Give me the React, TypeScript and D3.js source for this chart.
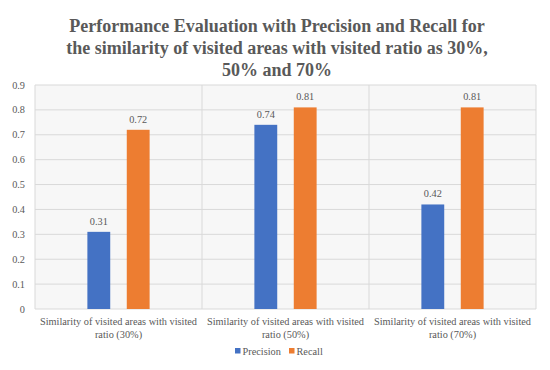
import * as d3 from 'd3';

const categories = ['30%', '50%', '70%'];
const precision = [0.31, 0.74, 0.42];
const recall = [0.72, 0.81, 0.81];
const seriesNames = ['Precision', 'Recall'];
const yTicks = [0, 0.1, 0.2, 0.3, 0.4, 0.5, 0.6, 0.7, 0.8, 0.9];
const titleLines = [
    'Performance Evaluation with Precision and Recall for',
    'the similarity of visited areas with visited ratio as 30%,',
    '50% and 70%',
];

const COLORS = ['#4472c4', '#ed7d31'];
const W = 550;
const H = 370;
const PLOT = { left: 35, right: 536, top: 85, bottom: 309 };
const FONT = 'Liberation Serif, Times New Roman, serif';
const TEXT = '#595959';
const SMALL = 10.3;

export default function App() {
    const x = d3
        .scaleBand()
        .domain(categories)
        .range([PLOT.left, PLOT.right]);
    // inner band for the two series inside each category
    const xInner = d3
        .scaleBand()
        .domain(seriesNames)
        .range([0, x.bandwidth()])
        .paddingInner(0.42)
        .paddingOuter(1.33);
    const y = d3.scaleLinear().domain([0, 0.9]).range([PLOT.bottom, PLOT.top]);

    const rows = categories.map((c, i) => ({ cat: c, values: [precision[i], recall[i]] }));

    return (
        <div style={{ margin: -8 }}>
            <svg width={W} height={H} style={{ display: 'block' }} fontFamily={FONT}>
                <rect x={0} y={0} width={W} height={H} fill="#fff" />
                <rect x={7.5} y={5.5} width={536} height={357} fill="#fff" stroke="#d0d0d0" strokeWidth={1} />
                {titleLines.map((t, i) => (
                    <text
                        key={i}
                        x={W / 2 + 2}
                        y={32 + i * 22}
                        textAnchor="middle"
                        fontSize={18}
                        fontWeight="bold"
                        fill={TEXT}
                    >
                        {t}
                    </text>
                ))}
                <rect
                    x={PLOT.left}
                    y={PLOT.top}
                    width={PLOT.right - PLOT.left}
                    height={PLOT.bottom - PLOT.top}
                    fill="#f7f7f7"
                />
                {yTicks.map((t) => (
                    <g key={t}>
                        <line x1={PLOT.left} x2={PLOT.right} y1={y(t)} y2={y(t)} stroke="#d9d9d9" />
                        <text x={25} y={y(t)} dy="0.35em" textAnchor="end" fontSize={SMALL} fill={TEXT}>
                            {t}
                        </text>
                    </g>
                ))}
                {categories.map((c) => (
                    <line
                        key={c}
                        x1={x(c) as number}
                        x2={x(c) as number}
                        y1={PLOT.top}
                        y2={PLOT.bottom}
                        stroke="#d9d9d9"
                    />
                ))}
                <line x1={PLOT.right} x2={PLOT.right} y1={PLOT.top} y2={PLOT.bottom} stroke="#d9d9d9" />
                {rows.map((r) => (
                    <g key={r.cat} transform={`translate(${x(r.cat)},0)`}>
                        {r.values.map((v, j) => {
                            const bx = xInner(seriesNames[j]) as number;
                            return (
                                <g key={j}>
                                    <rect
                                        x={bx}
                                        y={y(v)}
                                        width={xInner.bandwidth()}
                                        height={PLOT.bottom - y(v)}
                                        fill={COLORS[j]}
                                    />
                                    <text
                                        x={bx + xInner.bandwidth() / 2}
                                        y={y(v) - 7}
                                        textAnchor="middle"
                                        fontSize={SMALL}
                                        fill={TEXT}
                                    >
                                        {v.toFixed(2)}
                                    </text>
                                </g>
                            );
                        })}
                        <text x={x.bandwidth() / 2} y={325} textAnchor="middle" fontSize={SMALL} fill={TEXT}>
                            Similarity of visited areas with visited
                        </text>
                        <text x={x.bandwidth() / 2} y={338} textAnchor="middle" fontSize={SMALL} fill={TEXT}>
                            ratio ({r.cat})
                        </text>
                    </g>
                ))}
                <g transform="translate(235,351)">
                    <rect x={0} y={-3} width={5.5} height={5.5} fill={COLORS[0]} />
                    <text x={7.5} y={0} dy="0.35em" fontSize={SMALL} fill={TEXT}>
                        {seriesNames[0]}
                    </text>
                    <rect x={54} y={-3} width={5.5} height={5.5} fill={COLORS[1]} />
                    <text x={61.5} y={0} dy="0.35em" fontSize={SMALL} fill={TEXT}>
                        {seriesNames[1]}
                    </text>
                </g>
            </svg>
        </div>
    );
}
